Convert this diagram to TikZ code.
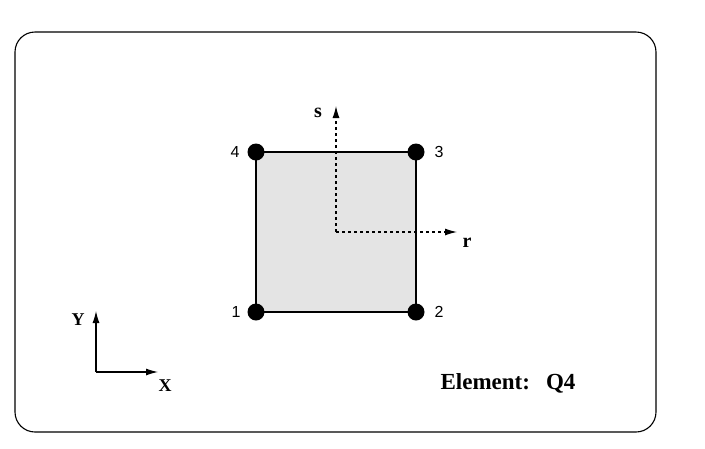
\documentclass[tikz,border=0pt]{standalone}
\usepackage{fontspec}
\setmainfont{Liberation Serif}
\newfontfamily\numfont{Liberation Sans}
\usetikzlibrary{arrows.meta}
\begin{document}
\begin{tikzpicture}[x=1pt,y=-1pt,
  nd/.style={circle,fill=black,inner sep=0pt,minimum size=17pt},
  num/.style={font=\numfont\fontsize{16}{16}\selectfont},
  lab/.style={font=\bfseries\fontsize{20}{20}\selectfont},
  ax/.style={-{Latex[length=12pt,width=7pt]},line width=1.1pt}]
\useasboundingbox (0,0) rectangle (705,448);
\draw[line width=1.1pt,rounded corners=20pt] (15,32) rectangle (656,432);
\draw[fill={rgb,255:red,228;green,228;blue,228},line width=1.1pt] (256,152) rectangle (416,312);
\node[nd] (n1) at (256,312) {};
\node[nd] (n2) at (416,312) {};
\node[nd] (n3) at (416,152) {};
\node[nd] (n4) at (256,152) {};
\node[num] at (236,312) {1};
\node[num] at (439,312) {2};
\node[num] at (439,152) {3};
\node[num] at (235,152) {4};
\coordinate (o) at (336,232);
\coordinate (se) at (336,106);
\coordinate (re) at (457,232);
\draw[ax,dashed] (o) -- (se);
\draw[ax,dashed] (o) -- (re);
\node[lab] at (318,113) {s};
\node[lab] at (467,243) {r};
\coordinate (O) at (96,372);
\coordinate (Ye) at (96,311);
\coordinate (Xe) at (158,372);
\draw[ax] (O) -- (Ye);
\draw[ax] (O) -- (Xe);
\node[font=\bfseries\fontsize{18}{18}\selectfont] at (78,320) {Y};
\node[font=\bfseries\fontsize{18}{18}\selectfont] at (165,386) {X};
\node[font=\bfseries\fontsize{23}{23}\selectfont] at (508,383) {Element:\hspace{16pt}Q4};
\end{tikzpicture}
\end{document}
